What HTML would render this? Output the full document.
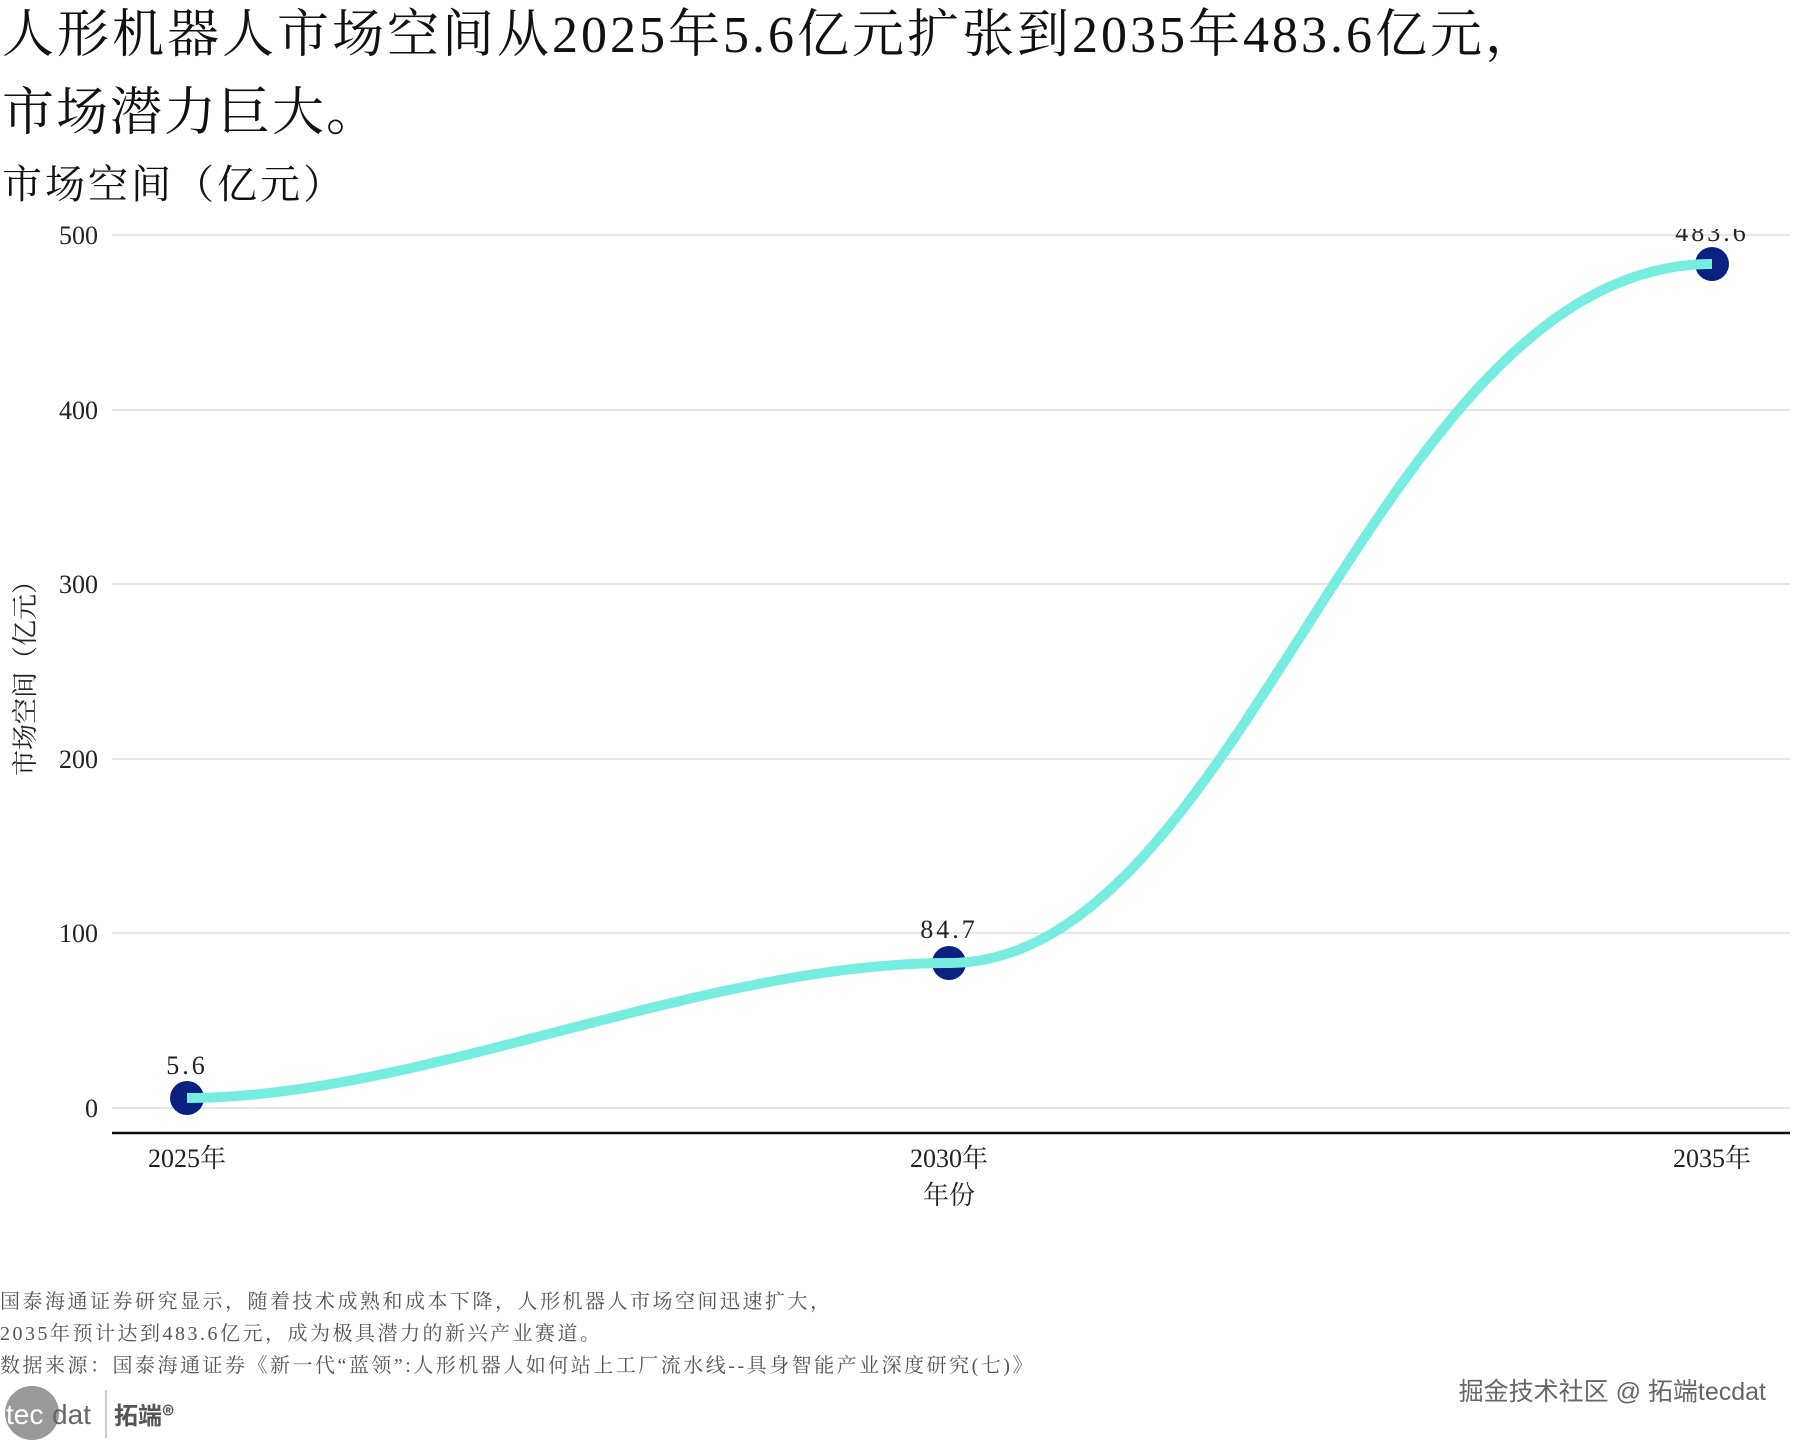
<!DOCTYPE html>
<html><head><meta charset="utf-8"><style>
html,body{margin:0;padding:0;background:#fff;}
body{width:1800px;height:1440px;position:relative;overflow:hidden;font-family:"Liberation Serif","Noto Serif CJK SC",serif;}
.t{position:absolute;white-space:nowrap;color:#111;}
</style></head><body>
<div class="t" style="left:2px;top:6px;font-size:52px;line-height:60px;letter-spacing:3px;">人形机器人市场空间从2025年5.6亿元扩张到2035年483.6亿元，</div>
<div class="t" style="left:2px;top:84px;font-size:52px;line-height:60px;letter-spacing:2px;">市场潜力巨大。</div>
<div class="t" style="left:2px;top:160px;font-size:40px;line-height:50px;letter-spacing:3px;">市场空间（亿元）</div>
<svg width="1800" height="1440" style="position:absolute;left:0;top:0" xmlns="http://www.w3.org/2000/svg">
<defs><clipPath id="c"><rect x="0" y="229" width="1800" height="1000"/></clipPath></defs>
<g stroke="#e6e6e6" stroke-width="2">
<line x1="112" x2="1790" y1="235" y2="235"/>
<line x1="112" x2="1790" y1="410" y2="410"/>
<line x1="112" x2="1790" y1="584" y2="584"/>
<line x1="112" x2="1790" y1="759" y2="759"/>
<line x1="112" x2="1790" y1="933" y2="933"/>
<line x1="112" x2="1790" y1="1108" y2="1108"/>
</g>
<line x1="112" x2="1790" y1="1133" y2="1133" stroke="#111" stroke-width="2.5"/>
<g font-size="26" fill="#222" text-anchor="end" font-family="Liberation Serif, Noto Serif CJK SC, serif">
<text x="98" y="244">500</text><text x="98" y="419">400</text><text x="98" y="593">300</text>
<text x="98" y="768">200</text><text x="98" y="942">100</text><text x="98" y="1117">0</text>
</g>
<g font-size="26" fill="#222" text-anchor="middle" font-family="Liberation Serif, Noto Serif CJK SC, serif">
<text x="187" y="1167">2025年</text><text x="949" y="1167">2030年</text><text x="1712" y="1167">2035年</text>
<text x="949" y="1204">年份</text>
</g>
<text transform="translate(34,672) rotate(-90)" font-size="26" fill="#222" text-anchor="middle" font-family="Liberation Serif, Noto Serif CJK SC, serif">市场空间（亿元）</text>
<circle cx="187" cy="1098" r="17" fill="#0a2180"/>
<circle cx="949" cy="963" r="17" fill="#0a2180"/>
<circle cx="1712" cy="264" r="17" fill="#0a2180"/>
<path d="M187,1098 C420,1098 700,963 949,963 C1245,963 1375,264 1712,264" fill="none" stroke="#77ede2" stroke-width="10"/>
<g font-size="26" fill="#222" text-anchor="middle" letter-spacing="3" font-family="Liberation Serif, Noto Serif CJK SC, serif" clip-path="url(#c)">
<text x="187" y="1074">5.6</text><text x="949" y="938">84.7</text><text x="1712" y="241">483.6</text>
</g>
<circle cx="32" cy="1413" r="27" fill="#999"/>
<text x="6" y="1424" font-size="28" fill="#fff" font-family="Liberation Sans, sans-serif">tec</text>
<text x="52" y="1424" font-size="28" fill="#666" font-family="Liberation Sans, sans-serif">dat</text>
<line x1="106" y1="1390" x2="106" y2="1438" stroke="#bbb" stroke-width="1.5"/>
<text x="114" y="1424" font-size="24" fill="#555" font-weight="bold" font-family="Noto Sans CJK SC, sans-serif">拓端®</text>
</svg>
<div class="t" style="left:0;top:1286px;font-size:20px;line-height:32px;color:#555;letter-spacing:2.5px;">国泰海通证券研究显示，随着技术成熟和成本下降，人形机器人市场空间迅速扩大，<br>2035年预计达到483.6亿元，成为极具潜力的新兴产业赛道。<br>数据来源：国泰海通证券《新一代“蓝领”:人形机器人如何站上工厂流水线--具身智能产业深度研究(七)》</div>
<div class="t" style="right:34px;top:1376px;font-size:25px;line-height:32px;color:#666;font-family:'Liberation Sans','Noto Sans CJK SC',sans-serif;">掘金技术社区 @ 拓端tecdat</div>
</body></html>
